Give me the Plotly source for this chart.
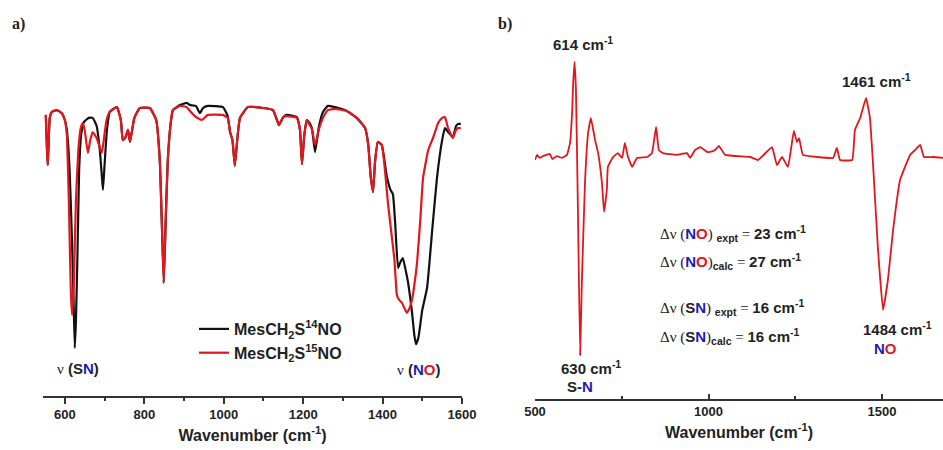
import plotly.graph_objects as go

# ---------------- data: panel a) IR transmittance (a.u.) ----------------
wn_14 = [552, 557, 562, 567, 580, 592, 600, 605, 612, 618, 622, 625, 628, 632, 636, 641, 648, 660, 670,
         680, 688, 693, 696, 700, 706, 713, 731, 741, 746, 752, 759, 764, 775, 789, 814, 830, 839, 844,
         849, 854, 859, 866, 872, 890, 907, 915, 930, 940, 948, 960, 998, 1010, 1016, 1022, 1028, 1034,
         1041, 1061, 1100, 1124, 1134, 1139, 1150, 1159, 1184, 1192, 1197, 1203, 1209, 1215, 1222, 1230,
         1240, 1250, 1262, 1280, 1310, 1335, 1356, 1364, 1370, 1376, 1381, 1388, 1398, 1410, 1420, 1426,
         1432, 1439, 1445, 1451, 1458, 1464, 1474, 1480, 1484, 1490, 1500, 1512, 1525, 1537, 1550, 1557,
         1565, 1577, 1585, 1590, 1597]
t_14 = [93.7, 77.0, 92.7, 94.7, 95.3, 94.3, 92.0, 88.7, 75.3, 52.0, 32.0, 16.0, 25.3, 48.7, 75.3, 87.0,
        91.3, 92.7, 92.7, 90.0, 82.0, 73.7, 68.7, 77.0, 88.7, 94.7, 96.3, 92.0, 85.3, 86.0, 88.7, 84.7,
        92.7, 96.0, 96.0, 92.0, 78.7, 58.7, 37.7, 58.7, 78.0, 90.3, 95.3, 97.0, 97.7, 97.0, 96.7, 94.3,
        96.0, 96.7, 96.3, 93.3, 88.0, 85.3, 76.7, 85.3, 92.7, 96.3, 96.0, 95.3, 92.0, 90.3, 93.0, 93.7,
        93.0, 88.7, 77.3, 87.0, 92.0, 91.3, 89.3, 81.3, 90.0, 94.7, 96.7, 96.3, 95.0, 92.7, 89.3, 83.7,
        73.3, 68.0, 78.0, 84.7, 83.7, 73.7, 68.7, 67.3, 57.0, 42.7, 44.7, 46.0, 42.0, 38.0, 28.0, 20.3,
        17.3, 19.3, 28.7, 36.0, 55.3, 72.7, 85.3, 89.3, 88.0, 86.3, 90.0, 90.7, 90.7]

wn_15 = [552, 557, 562, 567, 580, 592, 600, 605, 610, 615, 618, 622, 628, 634, 640, 645, 650, 658, 664,
         670, 680, 690, 693, 698, 705, 713, 731, 741, 746, 752, 759, 764, 775, 789, 814, 830, 839, 844,
         849, 854, 859, 866, 872, 890, 907, 915, 930, 945, 960, 998, 1010, 1016, 1022, 1028, 1034, 1041,
         1061, 1100, 1124, 1134, 1139, 1150, 1159, 1184, 1192, 1197, 1203, 1209, 1215, 1222, 1230, 1240,
         1250, 1262, 1280, 1310, 1335, 1356, 1364, 1370, 1376, 1381, 1388, 1398, 1414, 1430, 1436, 1442,
         1449, 1455, 1461, 1468, 1474, 1480, 1487, 1495, 1502, 1515, 1527, 1540, 1550, 1557, 1565, 1577,
         1585, 1590, 1597]
t_15 = [93.7, 77.0, 92.7, 94.7, 95.3, 94.3, 92.0, 87.0, 65.3, 35.3, 27.0, 35.3, 65.3, 82.0, 89.3, 91.0,
        88.7, 81.0, 85.3, 88.0, 86.0, 82.0, 81.0, 85.3, 92.0, 94.7, 96.3, 92.0, 85.3, 86.0, 88.7, 84.7,
        92.7, 96.0, 96.0, 92.0, 78.7, 58.7, 37.7, 58.7, 78.0, 90.3, 95.3, 96.7, 96.3, 95.0, 93.0, 92.0,
        93.7, 93.7, 92.7, 88.0, 85.3, 76.7, 85.3, 92.7, 96.3, 96.0, 95.3, 92.0, 90.3, 93.0, 93.3, 92.7,
        88.7, 77.3, 87.0, 92.0, 90.7, 89.0, 83.7, 89.0, 92.7, 95.3, 95.7, 95.0, 92.7, 89.3, 83.7, 73.3,
        68.0, 78.0, 84.7, 83.7, 63.7, 45.3, 33.7, 32.0, 31.0, 29.3, 27.7, 29.3, 32.0, 37.0, 44.7, 58.7,
        72.7, 82.0, 86.0, 91.0, 92.7, 93.0, 89.3, 86.0, 88.7, 89.3, 89.3]

# ---------------- data: panel b) difference spectrum (a.u.) ----------------
wn_diff = [500, 506, 514, 523, 543, 550, 563, 578, 592, 601, 607, 610, 614, 618, 624, 630, 635, 644, 653,
           661, 673, 682, 693, 699, 707, 710, 725, 739, 751, 759, 768, 780, 794, 823, 837, 849, 857, 869,
           909, 938, 947, 961, 976, 996, 1004, 1019, 1030, 1048, 1120, 1143, 1183, 1197, 1212, 1229, 1246,
           1255, 1261, 1272, 1313, 1359, 1370, 1379, 1414, 1422, 1437, 1454, 1465, 1474, 1488, 1503, 1517,
           1532, 1552, 1581, 1595, 1610, 1621, 1647, 1676]
d_diff = [-1.0, 0.7, -0.3, 0.3, 1.0, -0.7, 0.3, -0.3, 0.7, 4.7, 15.0, 24.7, 31.7, 22.3, -20.0, -66.0,
          -42.0, -8.7, 8.0, 13.0, 5.7, 1.3, -8.7, -18.3, -11.0, -3.3, 0.0, 1.3, -0.3, 4.7, 0.0, -3.3, -0.3,
          0.0, 1.3, 10.0, 2.3, 1.3, 0.7, 1.3, -0.3, 2.3, 3.3, 1.7, 1.7, 2.3, 3.7, 0.7, 0.0, -1.0, 3.3, -2.7,
          0.0, -3.3, 8.7, 5.0, 6.3, 0.7, 0.0, -0.3, 3.0, -1.0, -1.0, 9.0, 13.0, 19.7, 13.3, -2.0, -30.0,
          -51.0, -41.0, -24.3, -7.7, 0.7, 2.3, 4.0, 0.0, 0.0, -0.3]

xa_ticks = [600, 800, 1000, 1200, 1400, 1600]
xb_ticks = [500, 1000, 1500]
legend_names = ["MesCH<sub>2</sub>S<sup>14</sup>NO", "MesCH<sub>2</sub>S<sup>15</sup>NO"]

W, H = 943, 450
def px(p):
    return p / W
def py(p):
    return 1 - p / H

BLACK = "#111111"
RED = "#e3161d"
BLUE = "#1c1cb4"
SANS = "Liberation Sans, Arial, sans-serif"
SERIF = "Liberation Serif, Times New Roman, serif"

fig = go.Figure()
fig.add_trace(go.Scatter(x=wn_14, y=t_14, mode="lines", name=legend_names[0],
                         line=dict(color=BLACK, width=2.2, shape="spline", smoothing=0.4),
                         xaxis="x", yaxis="y"))
fig.add_trace(go.Scatter(x=wn_15, y=t_15, mode="lines", name=legend_names[1],
                         line=dict(color=RED, width=2.2, shape="spline", smoothing=0.4),
                         xaxis="x", yaxis="y"))
fig.add_trace(go.Scatter(x=wn_diff, y=d_diff, mode="lines", showlegend=False,
                         line=dict(color=RED, width=1.8, shape="spline", smoothing=0.3),
                         xaxis="x2", yaxis="y2"))

axis_common = dict(showgrid=False, zeroline=False, showline=True, linecolor="#333333", linewidth=1.5,
                   automargin=False,
                   tickfont=dict(family=SANS, size=13, color="#222222", weight="bold"),
                   title=dict(text="Wavenumber (cm<sup>-1</sup>)", standoff=8,
                              font=dict(family=SANS, size=16, color="#222222", weight="bold")))

fig.update_layout(
    width=W, height=H, margin=dict(l=0, r=0, t=0, b=0, pad=0, autoexpand=False),
    paper_bgcolor="white", plot_bgcolor="white",
    xaxis=dict(domain=[px(43), px(462)], range=[545, 1600], anchor="y",
               tickmode="array", tickvals=xa_ticks, ticks="outside", ticklen=6, tickwidth=1.5,
               tickcolor="#333333",
               minor=dict(ticks="outside", ticklen=3, tickwidth=1.5, tickcolor="#333333", dtick=100),
               **axis_common),
    yaxis=dict(domain=[py(396), py(96)], range=[0, 100], visible=False),
    xaxis2=dict(domain=[px(535), 1.0], range=[500, 1675.8], anchor="y2",
                tickmode="array", tickvals=xb_ticks, ticks="inside", ticklen=5, tickwidth=1.5,
                tickcolor="#333333",
                minor=dict(ticks="inside", ticklen=3, tickwidth=1.5, tickcolor="#333333", dtick=250),
                **axis_common),
    yaxis2=dict(domain=[py(399), py(40)], range=[-80.67, 39], visible=False),
    legend=dict(x=px(194), y=py(312), xanchor="left", yanchor="top",
                font=dict(family=SANS, size=16, color="#222222", weight="bold"),
                bgcolor="rgba(0,0,0,0)", borderwidth=0, tracegroupgap=0),
    showlegend=True,
)

def nu(s):
    return "<span style='font-family:Liberation Serif;font-weight:normal'>%s</span>" % s

N = "<span style='color:%s'>N</span>" % BLUE
O = "<span style='color:%s'>O</span>" % RED

ann = [
    ("a)", 10, 24, "left", 16, SERIF),
    ("b)", 496, 24, "left", 16, SERIF),
    (nu("ν") + " (S" + N + ")", 55, 368, "left", 15, SANS),
    (nu("ν") + " (" + N + O + ")", 395, 369, "left", 15, SANS),
    ("614 cm<sup>-1</sup>", 583, 43, "center", 15, SANS),
    ("1461 cm<sup>-1</sup>", 876, 80, "center", 15, SANS),
    ("630 cm<sup>-1</sup>", 591, 367, "center", 15, SANS),
    ("S-" + N, 580, 386, "center", 15, SANS),
    ("1484 cm<sup>-1</sup>", 897, 328, "center", 15, SANS),
    (N + O, 885, 348, "center", 15, SANS),
    (nu("Δν (") + N + O + nu(") ") + "<sub>expt</sub>" + nu(" = ") + "23 cm<sup>-1</sup>", 658, 233, "left", 15, SANS),
    (nu("Δν (") + N + O + nu(")") + "<sub>calc</sub>" + nu(" = ") + "27 cm<sup>-1</sup>", 658, 261, "left", 15, SANS),
    (nu("Δν (") + "S" + N + nu(") ") + "<sub>expt</sub>" + nu(" = ") + "16 cm<sup>-1</sup>", 658, 307, "left", 15, SANS),
    (nu("Δν (") + "S" + N + nu(")") + "<sub>calc</sub>" + nu(" = ") + "16 cm<sup>-1</sup>", 658, 336, "left", 15, SANS),
]
for text, x, y, xa, size, fam in ann:
    fig.add_annotation(text=text, x=px(x), y=py(y), xref="paper", yref="paper",
                       xanchor=xa, yanchor="middle", showarrow=False,
                       font=dict(family=fam, size=size, color="#222222", weight="bold"))

fig.write_html("out.html")
